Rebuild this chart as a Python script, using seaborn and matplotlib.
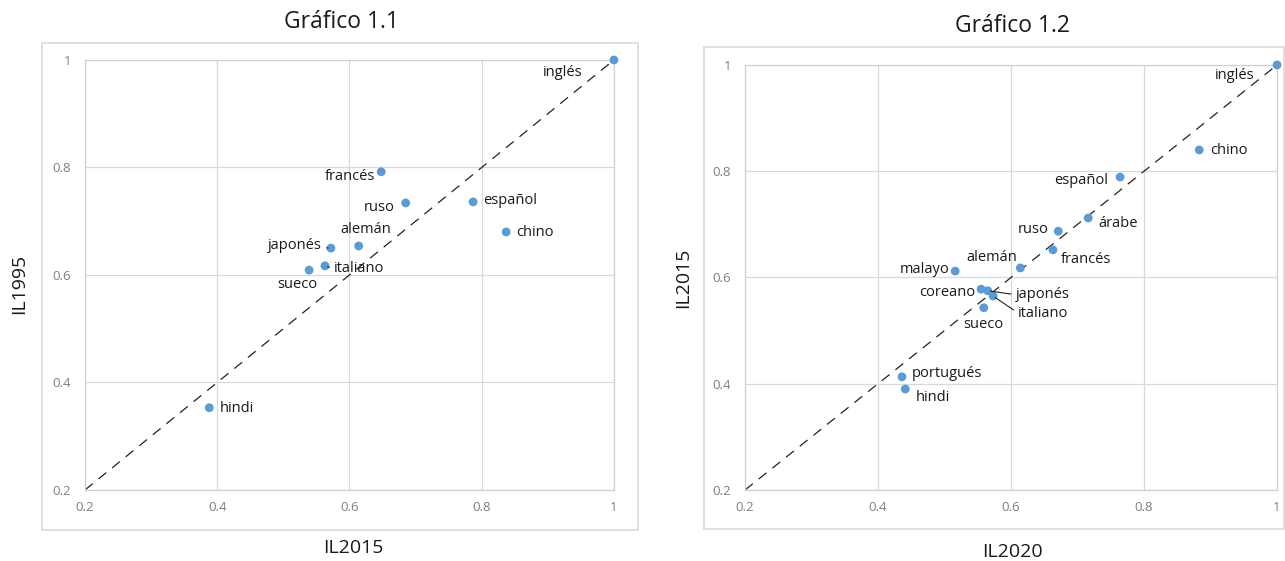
import matplotlib
matplotlib.use("Agg")
import matplotlib.pyplot as plt
import seaborn as sns
import pandas as pd
from matplotlib.patches import Rectangle

# Gráfico 1.1 data: IL2015 (x) vs IL1995 (y)
langs_1 = ["inglés", "francés", "ruso", "español", "chino", "alemán",
           "japonés", "italiano", "sueco", "hindi"]
il2015_1 = [1.000, 0.648, 0.685, 0.787, 0.837, 0.614, 0.572, 0.563, 0.539, 0.388]
il1995_1 = [1.000, 0.792, 0.734, 0.736, 0.680, 0.654, 0.650, 0.617, 0.609, 0.353]

# Gráfico 1.2 data: IL2020 (x) vs IL2015 (y)
langs_2 = ["inglés", "chino", "español", "árabe", "ruso", "francés", "alemán",
           "malayo", "coreano", "japonés", "italiano", "sueco", "portugués", "hindi"]
il2020_2 = [1.000, 0.883, 0.764, 0.716, 0.671, 0.663, 0.614,
            0.516, 0.555, 0.565, 0.573, 0.559, 0.436, 0.441]
il2015_2 = [1.000, 0.840, 0.789, 0.712, 0.687, 0.652, 0.618,
            0.612, 0.578, 0.575, 0.565, 0.543, 0.413, 0.390]

ticks = [0.2, 0.4, 0.6, 0.8, 1.0]
tick_labels = ["0.2", "0.4", "0.6", "0.8", "1"]

# label offsets in pixels (dx, dy, ha)
offsets_1 = {
    "inglés": (-31, -13, "right"), "francés": (-6, -5, "right"),
    "ruso": (-11, -5, "right"), "español": (10, 1, "left"),
    "chino": (10, -1, "left"), "alemán": (7, 16, "center"),
    "japonés": (-9, 3, "right"), "italiano": (9, -3, "left"),
    "sueco": (8, -14, "right"), "hindi": (10, -1, "left"),
}
offsets_2 = {
    "inglés": (-23, -11, "right"), "chino": (11, -1, "left"),
    "español": (-12, -3, "right"), "árabe": (10, -6, "left"),
    "ruso": (-10, 2, "right"), "francés": (8, -10, "left"),
    "alemán": (-3, 10, "right"), "malayo": (-6, 2, "right"),
    "coreano": (-6, -3, "right"), "japonés": (28, -4, "left"),
    "italiano": (25, -17, "left"), "sueco": (0, -17, "center"),
    "portugués": (10, 3, "left"), "hindi": (10, -8, "left"),
}
leaders = {"japonés", "italiano"}

sns.set_style("whitegrid")
plt.rcParams["font.family"] = ["Open Sans", "DejaVu Sans"]

fig = plt.figure(figsize=(12.85, 5.61), dpi=100)

# outer chart frames
fig.patches.append(Rectangle((0.0327, 0.0553), 0.4638, 0.868, transform=fig.transFigure,
                             fill=False, edgecolor="#d9d9d9", lw=1.2))
fig.patches.append(Rectangle((0.5479, 0.057), 0.4514, 0.859, transform=fig.transFigure,
                             fill=False, edgecolor="#d9d9d9", lw=1.2))

ax1 = fig.add_axes([0.0661, 0.1266, 0.4117, 0.7665])
ax2 = fig.add_axes([0.5798, 0.1266, 0.4140, 0.7576])

df1 = pd.DataFrame({"x": il2015_1, "y": il1995_1, "lang": langs_1})
df2 = pd.DataFrame({"x": il2020_2, "y": il2015_2, "lang": langs_2})

px2pt = 0.72


def draw(ax, df, offs, xlabel, ylabel, xl_pos, yl_pos):
    ax.plot([0.2, 1], [0.2, 1], color="#222222", lw=0.9, ls=(0, (8, 6)), zorder=1)
    sns.scatterplot(data=df, x="x", y="y", ax=ax, color="#5b9bd5", s=40,
                    edgecolor="none", zorder=3, clip_on=False)
    for _, r in df.iterrows():
        dx, dy, ha = offs[r["lang"]]
        kw = dict(textcoords="offset points", ha=ha, va="center", fontsize=10.5,
                  color="#1a1a1a")
        if r["lang"] in leaders:
            kw["arrowprops"] = dict(arrowstyle="-", color="#222222", lw=0.8,
                                    shrinkA=1, shrinkB=2, relpos=(0, 0.5))
        ax.annotate(r["lang"], (r["x"], r["y"]), xytext=(dx * px2pt, dy * px2pt), **kw)
    ax.set_xlim(0.2, 1)
    ax.set_ylim(0.2, 1)
    ax.set_xticks(ticks)
    ax.set_yticks(ticks)
    ax.set_xticklabels(tick_labels)
    ax.set_yticklabels(tick_labels)
    ax.tick_params(axis="both", length=0, labelsize=9.5, labelcolor="#7f7f7f")
    ax.tick_params(axis="x", pad=8)
    ax.tick_params(axis="y", pad=10)
    ax.grid(True, color="#d9d9d9", lw=0.9)
    for sp in ax.spines.values():
        sp.set_visible(True)
        sp.set_color("#d0d0d0")
        sp.set_linewidth(0.9)
    ax.set_xlabel(xlabel, fontsize=14, color="#1a1a1a")
    ax.set_ylabel(ylabel, fontsize=14, color="#1a1a1a")
    ax.xaxis.set_label_coords(*xl_pos)
    ax.yaxis.set_label_coords(*yl_pos)


draw(ax1, df1, offsets_1, "IL2015", "IL1995", (0.508, -0.115), (-0.108, 0.479))
draw(ax2, df2, offsets_2, "IL2020", "IL2015", (0.502, -0.125), (-0.099, 0.50))

fig.text(0.2654, 0.961, "Gráfico 1.1", ha="center", va="center", fontsize=16.5, color="#1a1a1a")
fig.text(0.788, 0.954, "Gráfico 1.2", ha="center", va="center", fontsize=16.5, color="#1a1a1a")

fig.savefig("out.png", dpi=100, facecolor="white")
